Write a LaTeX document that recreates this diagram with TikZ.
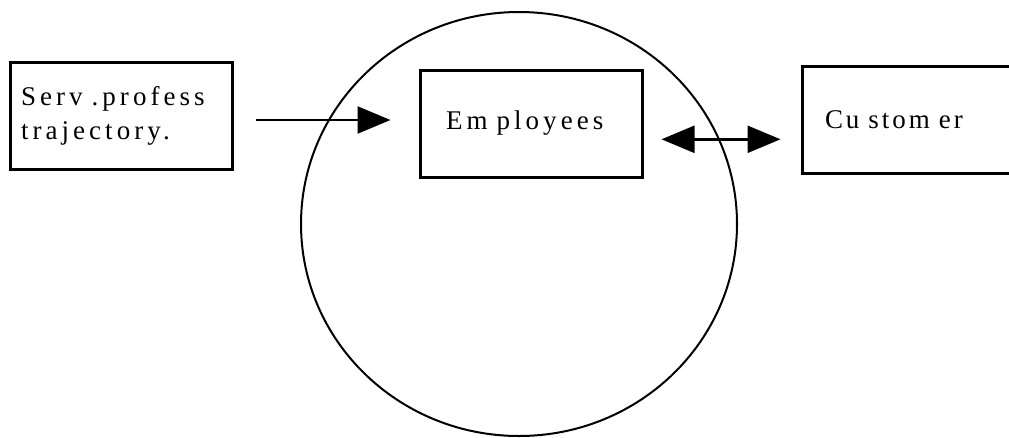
\documentclass[tikz,border=0pt]{standalone}
\usepackage{fontspec}
\setmainfont{Liberation Serif}[LetterSpace=15]
\newfontfamily\custfont{Liberation Serif}[LetterSpace=11]
\usetikzlibrary{arrows.meta}

\begin{document}
\begin{tikzpicture}[x=1pt, y=-1pt, >={Triangle[length=33pt,width=27pt]},
  box/.style={draw, line width=3pt, minimum width=222pt, minimum height=107pt,
    inner sep=0pt, align=left, font=\fontsize{27}{34}\selectfont},
  conn/.style={line width=2.4pt}]
\useasboundingbox (0,0) rectangle (1009,437);
\clip (0,0) rectangle (1009,437);
\draw[line width=2pt] (519,224) ellipse [x radius=218, y radius=212];
\node[box, text width=200pt] (serv) at (121,115.5) {Serv .profess\\trajectory.};
\node[box, text width=170pt] (emp) at (531,123.5) {Em ployees};
\node[box, text width=176pt] (cust) at (913,120) {\custfont Cu stom er};
\draw[conn,->, shorten <=22pt, shorten >=28pt]([yshift=-4.5pt]serv.east)--([yshift=3.5pt]emp.west);
\draw[conn,<->, shorten <=18pt, shorten >=20pt]([yshift=-15.8pt]emp.east)--([yshift=-19.3pt]cust.west);
\end{tikzpicture}
\end{document}
